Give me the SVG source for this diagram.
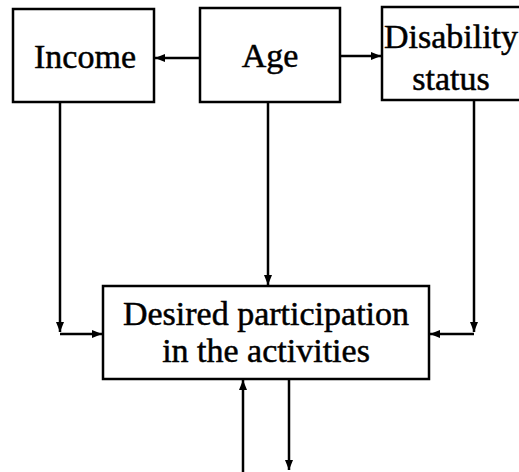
<svg xmlns="http://www.w3.org/2000/svg" width="519" height="472" viewBox="0 0 519 472">
<style>
.box{fill:#fff;stroke:#000;stroke-width:2.5}
.lbl{font-family:"Liberation Serif","DejaVu Serif",serif;font-size:34px;fill:#000;stroke:#000;stroke-width:0.5;text-anchor:middle}
.con{fill:none;stroke:#000;stroke-width:2.5}
</style>
<defs>
<marker id="ah" viewBox="0 0 10 10" refX="10" refY="5" markerWidth="4" markerHeight="4" orient="auto" markerUnits="strokeWidth">
<path d="M0,1 L10,5 L0,9 z" fill="#000"/>
</marker>
</defs>
<rect width="519" height="472" fill="#fff"/>
<g id="connectors">
<line class="con" x1="200" y1="58" x2="155" y2="58" marker-end="url(#ah)"/>
<line class="con" x1="340" y1="56" x2="381" y2="56" marker-end="url(#ah)"/>
<line class="con" x1="60" y1="103" x2="60" y2="332" marker-end="url(#ah)"/>
<line class="con" x1="60" y1="334" x2="102" y2="334" marker-end="url(#ah)"/>
<line class="con" x1="268" y1="103" x2="268" y2="285" marker-end="url(#ah)"/>
<line class="con" x1="474" y1="101" x2="474" y2="332" marker-end="url(#ah)"/>
<line class="con" x1="474" y1="334" x2="430" y2="334" marker-end="url(#ah)"/>
<line class="con" x1="243" y1="472" x2="243" y2="380" marker-end="url(#ah)"/>
<line class="con" x1="289" y1="380" x2="289" y2="470" marker-end="url(#ah)"/>
</g>
<g id="income">
<rect class="box" x="13" y="9" width="141" height="93"/>
<text class="lbl" x="85" y="68">Income</text>
</g>
<g id="age">
<rect class="box" x="200" y="8" width="140" height="94"/>
<text class="lbl" x="270" y="67">Age</text>
</g>
<g id="disability">
<rect class="box" x="382" y="7" width="140" height="93"/>
<text class="lbl" x="451" y="48">Disability</text>
<text class="lbl" x="451" y="90">status</text>
</g>
<g id="desired">
<rect class="box" x="103" y="286" width="326" height="93"/>
<text class="lbl" x="266" y="325">Desired participation</text>
<text class="lbl" x="266" y="362">in the activities</text>
</g>
</svg>
